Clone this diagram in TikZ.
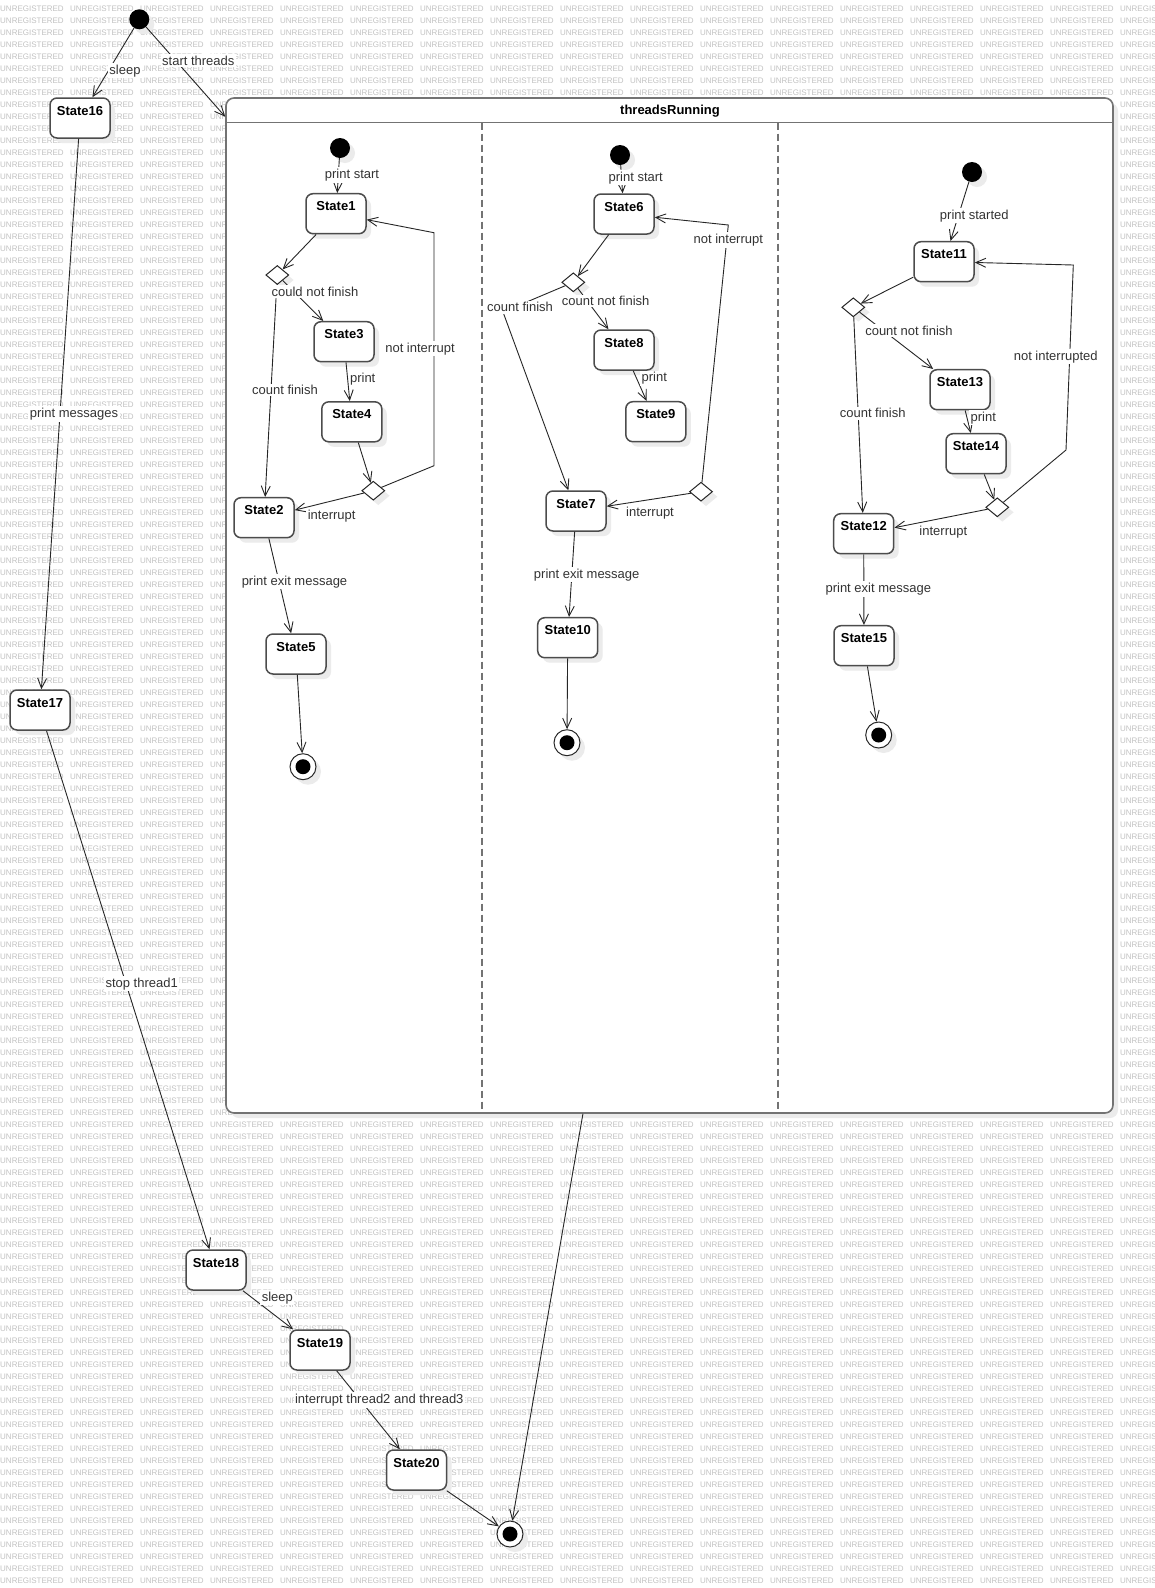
\documentclass[tikz,border=0pt]{standalone}
\usepackage{fontspec}
\setmainfont{Liberation Sans}
\usetikzlibrary{shapes.geometric,arrows.meta,shadows}
\newcommand{\wmword}{\makebox[70pt][l]{UNREGISTERED}}
\newcommand{\wmrow}{\wmword\wmword\wmword\wmword\wmword\wmword\wmword\wmword\wmword\wmword\wmword\wmword\wmword\wmword\wmword\wmword\wmword}
\begin{document}
\begin{tikzpicture}[x=1pt,y=-1pt,
  shd/.style={drop shadow={shadow xshift=5pt,shadow yshift=-5pt,fill=black!8,opacity=1}},
  wm/.style={anchor=west,inner sep=0pt,font=\fontsize{8}{9}\selectfont,text=black!24},
  st/.style={draw=black!70,line width=1.5pt,rounded corners=7pt,fill=white,
    minimum width=60pt,minimum height=40pt,inner xsep=0pt,inner ysep=4pt,
    text height=13pt,text depth=19pt,font=\fontsize{13}{15}\selectfont\bfseries,shd},
  ini/.style={circle,fill=black,minimum size=20pt,inner sep=0pt,shd},
  fin/.style={circle,draw=black!85,line width=1pt,fill=white,minimum size=26pt,inner sep=0pt,
    path picture={\fill[black] (path picture bounding box.center) circle (7.5pt);},shd},
  dec/.style={diamond,draw=black!85,line width=1pt,fill=white,minimum width=23pt,minimum height=19pt,inner sep=0pt,shd},
  ar/.style={draw=black!85,line width=0.9pt,-{Straight Barb[length=10pt,width=9pt]}},
  lb/.style={fill=white,inner sep=1.5pt,font=\fontsize{13}{15}\selectfont,text=black!80},
  frame/.style={draw=black!55,line width=1.6pt}
]
\useasboundingbox (0,0) rectangle (1155,1588);
\fill[white] (0,0) rectangle (1155,1588);
% watermark
\foreach \k in {0,...,131} { \node[wm] (w\k) at (0,8.5+12*\k) {\wmrow}; }
% container
\node[frame,rounded corners=8pt,fill=white,minimum width=887pt,minimum height=1015pt,inner sep=0pt,shd] (tr) at (669.5,605.5) {};
\draw[frame] (226,122.5) -- (1113,122.5);
\draw[frame,dash pattern=on 7pt off 4pt] (482,122.5) -- (482,1113);
\draw[frame,dash pattern=on 7pt off 4pt] (777.7,122.5) -- (777.7,1113);
\node[font=\fontsize{13}{15}\selectfont\bfseries] (title) at (670,110.7) {threadsRunning};
% outer
\node[ini] (i0) at (139.3,19.3) {};
\node[st] (s16) at (80,118) {State16};
\node[st] (s17) at (40,710) {State17};
\node[st] (s18) at (216,1270) {State18};
\node[st] (s19) at (320,1350) {State19};
\node[st] (s20) at (416.5,1470) {State20};
\node[fin] (f0) at (510,1534) {};
% region 1
\node[ini] (i1) at (340,148) {};
\node[st] (s1) at (336,213.7) {State1};
\node[dec] (d1) at (277.3,275) {};
\node[st] (s3) at (344,341.7) {State3};
\node[st] (s4) at (351.8,421.8) {State4};
\node[dec] (d2) at (373.3,490.7) {};
\node[st] (s2) at (264,517.7) {State2};
\node[st] (s5) at (296,654) {State5};
\node[fin] (f1) at (303,766.7) {};
\coordinate (c1a) at (434,465.7);
\coordinate (c1b) at (434,232.7);
% region 2
\node[ini] (i2) at (620,155) {};
\node[st] (s6) at (624,214) {State6};
\node[dec] (d3) at (573.3,282.3) {};
\node[st] (s8) at (624,350) {State8};
\node[st] (s9) at (655.8,421.7) {State9};
\node[dec] (d4) at (701,491.7) {};
\node[st] (s7) at (576,511) {State7};
\node[st] (s10) at (567.7,637.7) {State10};
\node[fin] (f2) at (567,742.7) {};
\coordinate (b3) at (503,312);
\coordinate (c2) at (728.3,225);
% region 3
\node[ini] (i3) at (972,172) {};
\node[st] (s11) at (944,261.7) {State11};
\node[dec] (d5) at (853.3,307.3) {};
\node[st] (s13) at (960,389.7) {State13};
\node[st] (s14) at (976,453.7) {State14};
\node[dec] (d6) at (997.3,507.3) {};
\node[st] (s12) at (863.7,533.7) {State12};
\node[st] (s15) at (864,645.7) {State15};
\node[fin] (f3) at (878.7,735) {};
\coordinate (c3a) at (1066,450);
\coordinate (c3b) at (1073.3,265);
% edges outer
\draw[ar] (i0) -- (s16);
\draw[ar] (i0) -- (tr);
\draw[ar] (s16) -- (s17);
\draw[ar] (s17) -- (s18);
\draw[ar] (s18) -- (s19);
\draw[ar] (s19) -- (s20);
\draw[ar] (s20) -- (f0);
\draw[ar] (tr) -- (f0);
% edges region 1
\draw[ar] (i1) -- (s1);
\draw[ar] (s1) -- (d1);
\draw[ar] (d1) -- (s3);
\draw[ar] (s3) -- (s4);
\draw[ar] (s4) -- (d2);
\draw[ar] (d2) -- (c1a) -- (c1b) -- (s1);
\draw[ar] (d1) -- (s2);
\draw[ar] (d2) -- (s2);
\draw[ar] (s2) -- (s5);
\draw[ar] (s5) -- (f1);
% edges region 2
\draw[ar] (i2) -- (s6);
\draw[ar] (s6) -- (d3);
\draw[ar] (d3) -- (s8);
\draw[ar] (s8) -- (s9);
\draw[ar] (d3) -- (b3) -- (s7);
\draw[ar] (d4) -- (c2) -- (s6);
\draw[ar] (d4) -- (s7);
\draw[ar] (s7) -- (s10);
\draw[ar] (s10) -- (f2);
% edges region 3
\draw[ar] (i3) -- (s11);
\draw[ar] (s11) -- (d5);
\draw[ar] (d5) -- (s13);
\draw[ar] (s13) -- (s14);
\draw[ar] (s14) -- (d6);
\draw[ar] (d6) -- (c3a) -- (c3b) -- (s11);
\draw[ar] (d5) -- (s12);
\draw[ar] (d6) -- (s12);
\draw[ar] (s12) -- (s15);
\draw[ar] (s15) -- (f3);
% labels outer
\node[lb] (l1) at (125,70.7) {sleep};
\node[lb] (l2) at (198.3,60.7) {start threads};
\node[lb] (l3) at (74,414) {print messages};
\node[lb] (l4) at (141.7,983.7) {stop thread1};
\node[lb] (l5) at (277.3,1297.7) {sleep};
\node[lb] (l6) at (379.3,1400) {interrupt thread2 and thread3};
% labels region 1
\node[lb] (l7) at (352,175) {print start};
\node[lb] (l8) at (315,291.7) {could not finish};
\node[lb] (l9) at (420,348.7) {not interrupt};
\node[lb] (l10) at (362.7,379.3) {print};
\node[lb] (l11) at (285,390) {count finish};
\node[lb] (l12) at (331.7,516) {interrupt};
\node[lb] (l13) at (294.5,581.7) {print exit message};
% labels region 2
\node[lb] (l14) at (635.7,177.7) {print start};
\node[lb] (l15) at (520,307.3) {count finish};
\node[lb] (l16) at (605.7,301) {count not finish};
\node[lb] (l17) at (654.3,378.3) {print};
\node[lb] (l18) at (728.3,240) {not interrupt};
\node[lb] (l19) at (650,512.7) {interrupt};
\node[lb] (l20) at (586.7,574.7) {print exit message};
% labels region 3
\node[lb] (l21) at (974.3,215.7) {print started};
\node[lb] (l22) at (909,330.7) {count not finish};
\node[lb] (l23) at (983.3,417.7) {print};
\node[lb] (l24) at (1055.7,356.7) {not interrupted};
\node[lb] (l25) at (872.7,413.3) {count finish};
\node[lb] (l26) at (943.3,531.7) {interrupt};
\node[lb] (l27) at (878.3,589) {print exit message};
\end{tikzpicture}
\end{document}
